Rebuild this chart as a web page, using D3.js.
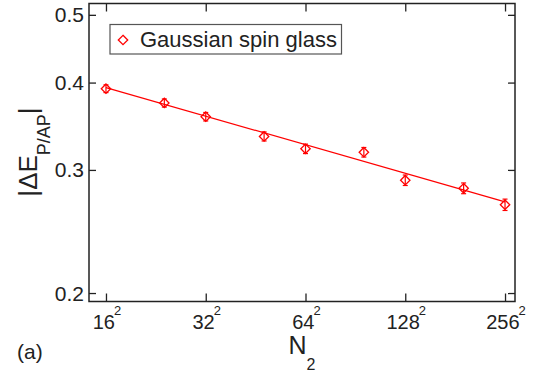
<!DOCTYPE html>
<html>
<head>
<meta charset="utf-8">
<script src="https://cdn.jsdelivr.net/npm/d3@7"></script>
<style>
  body { margin: 0; background: #fff; }
  svg { display: block; font-family: "Liberation Sans", Arial, Helvetica, sans-serif; }
</style>
</head>
<body>
<script>
// linear size L of the lattice (N2 = L^2) and measured |dE_P/AP|
var sizesL = [16, 24, 32, 48, 64, 96, 128, 192, 256];
var deltaE = [0.392, 0.374, 0.3575, 0.335, 0.3216, 0.318, 0.290, 0.2824, 0.2675];
var errs   = [0.005, 0.005, 0.005, 0.005, 0.005, 0.005, 0.005, 0.005, 0.005];

// power-law fit, end points
var fitL    = [16, 256];
var fitVals = [0.3935, 0.270];

var xTickL = [16, 32, 64, 128, 256];
var yTicks = [0.2, 0.3, 0.4, 0.5];
var legendLabel = "Gaussian spin glass";

var W = 542, H = 372;
var margin = {left: 89, right: 27, top: 3.5, bottom: 70.5},
    width = W - margin.left - margin.right,
    height = H - margin.top - margin.bottom;

var ink = "#222", red = "#ff0000";

var svg = d3.select("body").append("svg")
    .attr("width", W)
    .attr("height", H);

var g = svg.append("g")
    .attr("transform", "translate(" + margin.left + "," + margin.top + ")");

// log scales (x is N2 = L^2)
var xScale = d3.scaleLog()
    .domain([202.2, 75280])
    .range([0, width]);

var yScale = d3.scaleLog()
    .domain([0.1945, 0.519])
    .range([height, 0]);

var xTicks = xTickL.map(function(l) { return l * l; });

// ticks, all pointing inward
g.append("g")
    .attr("transform", "translate(0," + height + ")")
    .call(d3.axisBottom(xScale).tickValues(xTicks).tickSize(-8).tickFormat(""));
g.append("g")
    .call(d3.axisTop(xScale).tickValues(xTicks).tickSize(-8).tickFormat(""));
g.append("g")
    .call(d3.axisLeft(yScale).tickValues(yTicks).tickSize(-7).tickFormat(""));
g.append("g")
    .attr("transform", "translate(" + width + ",0)")
    .call(d3.axisRight(yScale).tickValues(yTicks).tickSize(-7).tickFormat(""));

g.selectAll(".domain").remove();
g.selectAll(".tick line").attr("stroke", ink).attr("stroke-width", 1.3);

// frame
g.append("rect")
    .attr("width", width)
    .attr("height", height)
    .attr("fill", "none")
    .attr("stroke", ink)
    .attr("stroke-width", 1.5);

// y tick labels
g.selectAll(".ylab")
    .data(yTicks)
    .enter().append("text")
    .attr("class", "ylab")
    .attr("x", -5)
    .attr("y", function(d) { return yScale(d); })
    .attr("dy", "0.36em")
    .attr("text-anchor", "end")
    .attr("font-size", "21px")
    .attr("fill", ink)
    .text(function(d) { return d3.format(".1f")(d); });

// x tick labels, L with superscript 2
var xl = g.selectAll(".xlab")
    .data(xTickL)
    .enter().append("text")
    .attr("class", "xlab")
    .attr("x", function(d) { return xScale(d * d) + 1; })
    .attr("y", height + 27.5)
    .attr("text-anchor", "middle")
    .attr("font-size", "20px")
    .attr("fill", ink);
xl.append("tspan").text(function(d) { return d; });
xl.append("tspan").attr("dy", -14).attr("dx", -1).attr("font-size", "13px").text("2");

// axis titles
var xt = svg.append("text")
    .attr("x", margin.left + width / 2)
    .attr("y", 353.5)
    .attr("text-anchor", "middle")
    .attr("font-size", "25px")
    .attr("fill", ink);
xt.append("tspan").text("N");
xt.append("tspan").attr("dy", 16.5).attr("font-size", "16px").text("2");

var yt = svg.append("text")
    .attr("transform", "translate(37,152) rotate(-90)")
    .attr("text-anchor", "middle")
    .attr("font-size", "26px")
    .attr("fill", ink);
yt.append("tspan").text("|\u0394E");
yt.append("tspan").attr("dy", 13).attr("font-size", "18px").text("P/AP");
yt.append("tspan").attr("dy", -13).text("|");

svg.append("text")
    .attr("x", 17)
    .attr("y", 359)
    .attr("font-size", "21px")
    .attr("fill", ink)
    .text("(a)");

// fit line
var line = d3.line()
    .x(function(d) { return xScale(d[0] * d[0]); })
    .y(function(d) { return yScale(d[1]); });

g.append("path")
    .datum(d3.zip(fitL, fitVals))
    .attr("d", line)
    .attr("fill", "none")
    .attr("stroke", red)
    .attr("stroke-width", 1.2);

// data points with error bars
var pts = d3.zip(sizesL, deltaE, errs);
var r = 4.7;
var diamond = "M0," + (-r) + "L" + r + ",0L0," + r + "L" + (-r) + ",0Z";

var pg = g.selectAll(".pt")
    .data(pts)
    .enter().append("g")
    .attr("class", "pt");

pg.append("line")
    .attr("x1", function(d) { return xScale(d[0] * d[0]); })
    .attr("x2", function(d) { return xScale(d[0] * d[0]); })
    .attr("y1", function(d) { return yScale(d[1] - d[2]); })
    .attr("y2", function(d) { return yScale(d[1] + d[2]); })
    .attr("stroke", red)
    .attr("stroke-width", 1.2);

[1, -1].forEach(function(s) {
    pg.append("line")
        .attr("x1", function(d) { return xScale(d[0] * d[0]) - 2.5; })
        .attr("x2", function(d) { return xScale(d[0] * d[0]) + 2.5; })
        .attr("y1", function(d) { return yScale(d[1] + s * d[2]); })
        .attr("y2", function(d) { return yScale(d[1] + s * d[2]); })
        .attr("stroke", red)
        .attr("stroke-width", 1.2);
});

pg.append("path")
    .attr("d", diamond)
    .attr("transform", function(d) {
        return "translate(" + xScale(d[0] * d[0]) + "," + yScale(d[1]) + ")";
    })
    .attr("fill", "none")
    .attr("stroke", red)
    .attr("stroke-width", 1.3);

// legend
svg.append("rect")
    .attr("x", 110)
    .attr("y", 24.5)
    .attr("width", 231.5)
    .attr("height", 29.5)
    .attr("fill", "#fff")
    .attr("stroke", "#555")
    .attr("stroke-width", 1.2);

svg.append("path")
    .attr("d", diamond)
    .attr("transform", "translate(123,40)")
    .attr("fill", "none")
    .attr("stroke", red)
    .attr("stroke-width", 1.3);

svg.append("text")
    .attr("x", 140)
    .attr("y", 46.5)
    .attr("font-size", "22px")
    .attr("fill", ink)
    .text(legendLabel);
</script>
</body>
</html>
